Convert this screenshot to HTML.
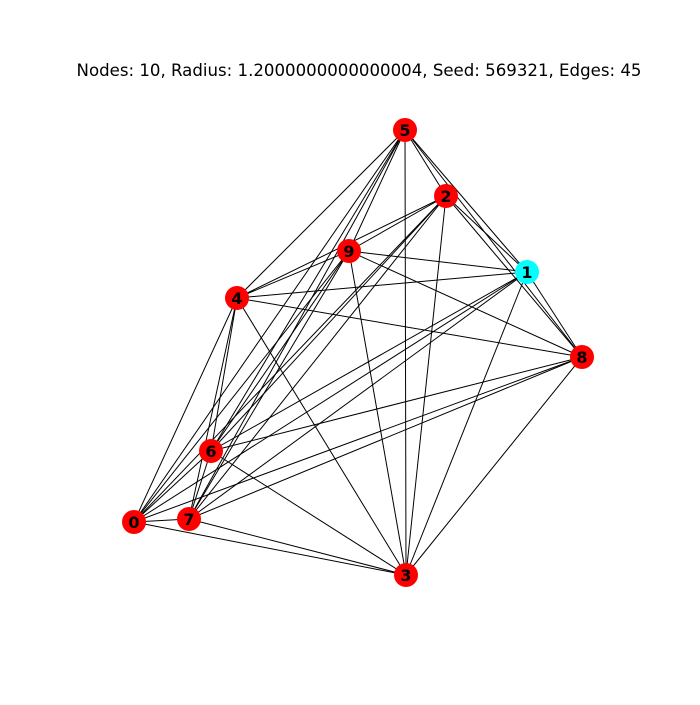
<!DOCTYPE html>
<html><head><meta charset="utf-8"><style>
body{margin:0;background:#fff;}
svg text{font-family:"DejaVu Sans","Liberation Sans",sans-serif;}
</style></head><body>
<svg id="chart" width="700" height="700">
<text x="359" y="76" text-anchor="middle" font-size="16.6">Nodes: 10, Radius: 1.2000000000000004, Seed: 569321, Edges: 45</text>
<g id="edges"></g>
<g id="nodes"></g>
</svg>
<script>
const nodeIds = [0,1,2,3,4,5,6,7,8,9];
const nodeX = [134,527,446,406,237,405,211,189,582,349];
const nodeY = [522,272,196,575,298,130,451,519,357,251];
const nodeColors = ['red','cyan','red','red','red','red','red','red','red','red'];
const NS='http://www.w3.org/2000/svg';
const eg=document.getElementById('edges'), ng=document.getElementById('nodes');
for(let i=0;i<nodeIds.length;i++)for(let j=i+1;j<nodeIds.length;j++){
  const l=document.createElementNS(NS,'line');
  l.setAttribute('x1',nodeX[i]);l.setAttribute('y1',nodeY[i]);
  l.setAttribute('x2',nodeX[j]);l.setAttribute('y2',nodeY[j]);
  l.setAttribute('stroke','#000');l.setAttribute('stroke-width','1');
  
  
  eg.appendChild(l);
}
for(let i=0;i<nodeIds.length;i++){
  const c=document.createElementNS(NS,'circle');
  c.setAttribute('cx',nodeX[i]);c.setAttribute('cy',nodeY[i]);c.setAttribute('r','12');
  c.setAttribute('fill',nodeColors[i]);
  
  
  ng.appendChild(c);
  const t=document.createElementNS(NS,'text');
  t.setAttribute('x',nodeX[i]);t.setAttribute('y',nodeY[i]+6);
  t.setAttribute('text-anchor','middle');t.setAttribute('font-size','16');t.setAttribute('font-weight','bold');
  t.textContent=nodeIds[i];
  
  
  ng.appendChild(t);
}
</script>
</body></html>
